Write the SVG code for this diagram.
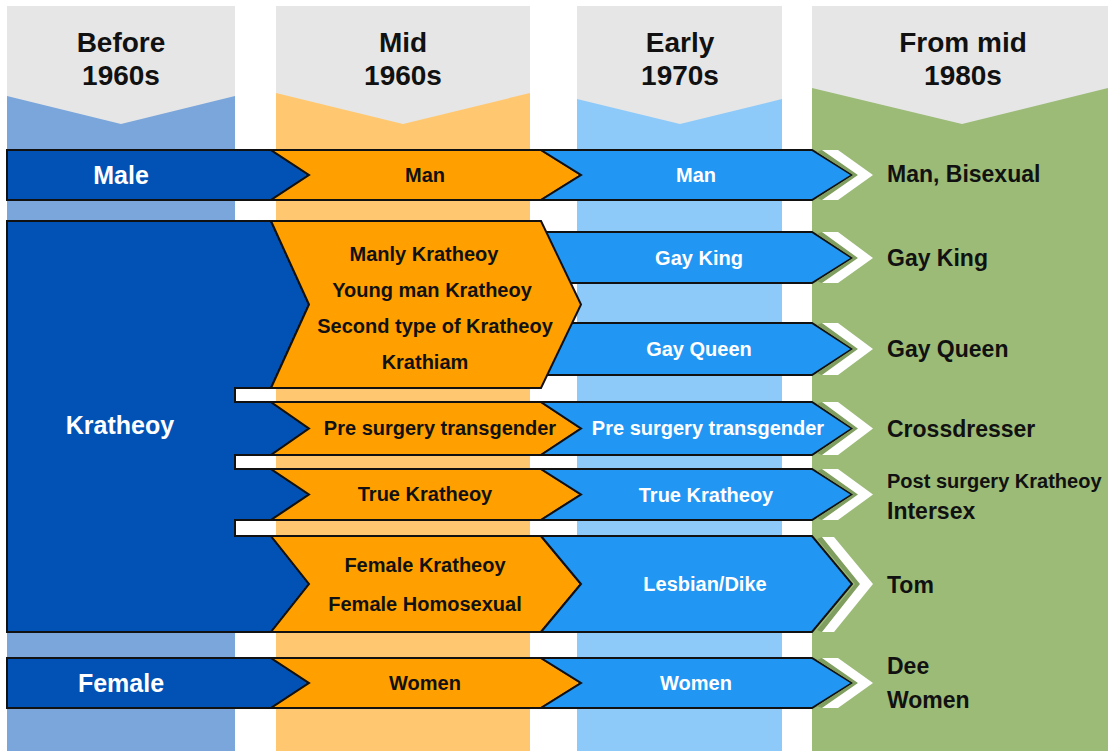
<svg xmlns="http://www.w3.org/2000/svg" width="1108" height="751" viewBox="0 0 1108 751">
  <style>
    .hdr { fill: #e6e6e6; }
    .box { stroke: #111; stroke-width: 2; stroke-linejoin: miter; }
    .dark { fill: #0152b4; }
    .org { fill: #ffa000; }
    .blu { fill: #2196f3; }
    .chev { fill: #ffffff; }
    .shade { fill: #7f9e5f; }
    text { font-family: "Liberation Sans", Arial, sans-serif; font-weight: bold; }
    .h { font-size: 28px; fill: #111; text-anchor: middle; }
    .l { font-size: 25px; fill: #ffffff; text-anchor: middle; }
    .ob { font-size: 20px; fill: #111; text-anchor: middle; }
    .wb { font-size: 20px; fill: #ffffff; text-anchor: middle; }
    .g { font-size: 23px; fill: #111; }
    .gs { font-size: 20px; fill: #111; }
  </style>

  <rect width="1108" height="751" fill="#ffffff"/>

  <!-- period columns with chevron-shaped headers -->
  <g id="col-before-1960s">
    <rect x="7" y="6" width="228" height="745" fill="#7aa6db"/>
    <polygon class="hdr" points="7,6 235,6 235,96 121,124 7,96"/>
    <text class="h" x="121" y="52">Before</text>
    <text class="h" x="121" y="85">1960s</text>
  </g>
  <g id="col-mid-1960s">
    <rect x="276" y="6" width="254" height="745" fill="#ffc870"/>
    <polygon class="hdr" points="276,6 530,6 530,93 403,124 276,93"/>
    <text class="h" x="403" y="52">Mid</text>
    <text class="h" x="403" y="85">1960s</text>
  </g>
  <g id="col-early-1970s">
    <rect x="577" y="6" width="205" height="745" fill="#8dcafa"/>
    <polygon class="hdr" points="577,6 782,6 782,99 680,124 577,99"/>
    <text class="h" x="680" y="52">Early</text>
    <text class="h" x="680" y="85">1970s</text>
  </g>
  <g id="col-from-mid-1980s">
    <rect x="812" y="6" width="296" height="745" fill="#9bbb77"/>
    <polygon class="hdr" points="812,6 1108,6 1108,88 962,124 812,88"/>
    <text class="h" x="963" y="52">From mid</text>
    <text class="h" x="963" y="85">1980s</text>
  </g>

  <!-- Before 1960s -->
  <g id="node-male">
    <polygon class="box dark" points="7,150 271,150 309,175 271,200 7,200"/>
    <text class="l" x="121" y="184">Male</text>
  </g>
  <g id="node-kratheoy">
    <path class="box dark" d="M7,221 H271 L309,304.5 L271,388 H235 V402 H271 L309,428.5 L271,455 H235 V469 H271 L309,494.5 L271,520 H235 V536 H271 L309,584 L271,632 H7 Z"/>
    <text class="l" x="120" y="434">Kratheoy</text>
  </g>
  <g id="node-female">
    <polygon class="box dark" points="7,658 271,658 309,683 271,708 7,708"/>
    <text class="l" x="121" y="692">Female</text>
  </g>

  <!-- Early 1970s, upper pair sits under the Mid 1960s block -->
  <g id="node-gay-king-1970s">
    <polygon class="box blu" points="540,232 812,232 852,258 812,283 540,283"/>
    <text class="wb" x="699" y="265">Gay King</text>
  </g>
  <g id="node-gay-queen-1970s">
    <polygon class="box blu" points="540,323 812,323 852,349 812,375 540,375"/>
    <text class="wb" x="699" y="356">Gay Queen</text>
  </g>

  <!-- Mid 1960s -->
  <g id="node-man-1960s">
    <polygon class="box org" points="271,150 541,150 581,175 541,200 271,200 309,175"/>
    <text class="ob" x="425" y="182">Man</text>
  </g>
  <g id="node-kratheoy-types">
    <polygon class="box org" points="271,221 541,221 581,304.5 541,388 271,388 309,304.5"/>
    <text class="ob" x="424" y="261">Manly Kratheoy</text>
    <text class="ob" x="432" y="297">Young man Kratheoy</text>
    <text class="ob" x="435" y="333">Second type of Kratheoy</text>
    <text class="ob" x="425" y="369">Krathiam</text>
  </g>
  <g id="node-pre-surgery-1960s">
    <polygon class="box org" points="271,402 541,402 581,428.5 541,455 271,455 309,428.5"/>
    <text class="ob" x="440" y="435">Pre surgery transgender</text>
  </g>
  <g id="node-true-kratheoy-1960s">
    <polygon class="box org" points="271,469 541,469 581,494.5 541,520 271,520 309,494.5"/>
    <text class="ob" x="425" y="501">True Kratheoy</text>
  </g>
  <g id="node-female-types">
    <polygon class="box org" points="271,536 541,536 581,584 541,632 271,632 309,584"/>
    <text class="ob" x="425" y="572">Female Kratheoy</text>
    <text class="ob" x="425" y="611">Female Homosexual</text>
  </g>
  <g id="node-women-1960s">
    <polygon class="box org" points="271,658 541,658 581,683 541,708 271,708 309,683"/>
    <text class="ob" x="425" y="690">Women</text>
  </g>

  <!-- Early 1970s -->
  <g id="node-man-1970s">
    <polygon class="box blu" points="541,150 812,150 852,175 812,200 541,200 581,175"/>
    <text class="wb" x="696" y="182">Man</text>
  </g>
  <g id="node-pre-surgery-1970s">
    <polygon class="box blu" points="541,402 812,402 852,428.5 812,455 541,455 581,428.5"/>
    <text class="wb" x="708" y="435">Pre surgery transgender</text>
  </g>
  <g id="node-true-kratheoy-1970s">
    <polygon class="box blu" points="541,469 812,469 852,494.5 812,520 541,520 581,494.5"/>
    <text class="wb" x="706" y="502">True Kratheoy</text>
  </g>
  <g id="node-lesbian-dike">
    <polygon class="box blu" points="541,536 812,536 852,584 812,632 541,632 581,584"/>
    <text class="wb" x="705" y="591">Lesbian/Dike</text>
  </g>
  <g id="node-women-1970s">
    <polygon class="box blu" points="541,658 812,658 852,683 812,708 541,708 581,683"/>
    <text class="wb" x="696" y="690">Women</text>
  </g>

  <!-- chevron pointers into the 1980s column -->
  <g id="connectors">
    <polygon class="shade" points="817,152 822,150 858,175 822,200 817,198 853,175"/>
    <polygon class="chev" points="822,150 838,150 873,175 838,200 822,200 858,175"/>
    <polygon class="shade" points="817,234 822,232 858,258 822,283 817,281 853,258"/>
    <polygon class="chev" points="822,232 838,232 873,258 838,283 822,283 858,258"/>
    <polygon class="shade" points="817,325 822,323 858,349 822,375 817,373 853,349"/>
    <polygon class="chev" points="822,323 838,323 873,349 838,375 822,375 858,349"/>
    <polygon class="shade" points="817,404 822,402 858,428.5 822,455 817,453 853,428.5"/>
    <polygon class="chev" points="822,402 838,402 873,428.5 838,455 822,455 858,428.5"/>
    <polygon class="shade" points="817,471 822,469 858,494.5 822,520 817,518 853,494.5"/>
    <polygon class="chev" points="822,469 838,469 873,494.5 838,520 822,520 858,494.5"/>
    <polygon class="shade" points="817,539 822,537 860,584 822,632 817,630 855,584"/>
    <polygon class="chev" points="822,537 834,537 873,584 834,632 822,632 860,584"/>
    <polygon class="shade" points="817,660 822,658 858,683 822,708 817,706 853,683"/>
    <polygon class="chev" points="822,658 838,658 873,683 838,708 822,708 858,683"/>
  </g>

  <!-- From mid 1980s -->
  <g id="node-man-bisexual">
    <text class="g" x="887" y="182">Man, Bisexual</text>
  </g>
  <g id="node-gay-king-1980s">
    <text class="g" x="887" y="266">Gay King</text>
  </g>
  <g id="node-gay-queen-1980s">
    <text class="g" x="887" y="357">Gay Queen</text>
  </g>
  <g id="node-crossdresser">
    <text class="g" x="887" y="437">Crossdresser</text>
  </g>
  <g id="node-post-surgery">
    <text class="gs" x="887" y="488">Post surgery Kratheoy</text>
    <text class="g" x="887" y="519">Intersex</text>
  </g>
  <g id="node-tom">
    <text class="g" x="887" y="593">Tom</text>
  </g>
  <g id="node-dee-women">
    <text class="g" x="887" y="674">Dee</text>
    <text class="g" x="887" y="708">Women</text>
  </g>
</svg>
